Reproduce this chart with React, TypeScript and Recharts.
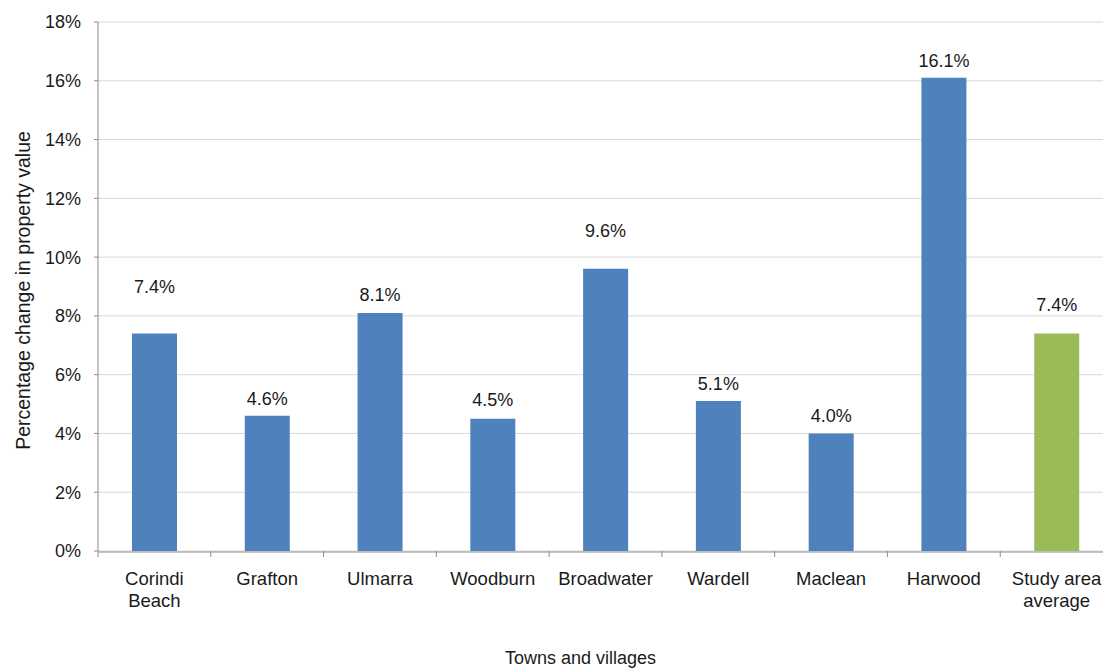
import { Bar, BarChart, CartesianGrid, Cell, LabelList, Label, Text, XAxis, YAxis } from "recharts";

const towns = ["Corindi Beach", "Grafton", "Ulmarra", "Woodburn", "Broadwater", "Wardell", "Maclean", "Harwood", "Study area average"];
const change = [7.4, 4.6, 8.1, 4.5, 9.6, 5.1, 4.0, 16.1, 7.4];
const yTicks = [0, 2, 4, 6, 8, 10, 12, 14, 16, 18];
const edgeTicks = [0, 1, 2, 3, 4, 5, 6, 7, 8, 9];

// data labels in the source sit at uneven heights above the bars (px)
const labelLift = [47, 17, 18, 19, 38, 17, 17, 17, 29];

const data = towns.map((town, i) => ({ town, change: change[i], slot: i }));

const FONT = '"Liberation Sans", Arial, sans-serif';
const BLUE = "#4f81bd";
const GREEN = "#9bbb59";
const AXIS = "#8c8c8c";
const INK = "#1a1a1a";

const TownTick = (props: any) => {
  const { x, y, payload } = props;
  return (
    <Text
      x={x}
      y={y + 20}
      width={96}
      textAnchor="middle"
      verticalAnchor="start"
      lineHeight={22}
      fontSize={18.5}
      fontFamily={FONT}
      fill={INK}
      style={{ fontSize: 18.5, fontFamily: FONT }}
    >
      {payload.value}
    </Text>
  );
};

const ValueLabel = (props: any) => {
  const { x, y, width, value, index } = props;
  return (
    <text
      x={x + width / 2}
      y={y - labelLift[index]}
      textAnchor="middle"
      dominantBaseline="central"
      fontSize={18}
      fontFamily={FONT}
      fill={INK}
    >
      {`${Number(value).toFixed(1)}%`}
    </text>
  );
};

export default function App() {
  return (
    <div style={{ position: "fixed", left: 0, top: 0, width: 1103, height: 668, overflow: "hidden", background: "#fff" }}>
      <BarChart width={1113} height={668} data={data} margin={{ top: 22, right: 0, left: 0, bottom: 56 }}>
        <CartesianGrid stroke="#d9d9d9" vertical={false} />
        {/* boundary tick marks between categories, like the source */}
        <XAxis
          xAxisId="aEdges"
          type="number"
          dataKey="slot"
          domain={[0, 9]}
          allowDataOverflow
          ticks={edgeTicks}
          interval={0}
          tickFormatter={() => ""}
          tickLine={{ stroke: AXIS }}
          tickSize={6}
          axisLine={false}
          height={1}
        />
        <XAxis
          xAxisId="cat"
          dataKey="town"
          interval={0}
          tick={<TownTick />}
          tickLine={false}
          tickSize={0}
          tickMargin={0}
          axisLine={{ stroke: AXIS }}
          height={60}
        >
          <Label
            content={({ viewBox }: any) => (
              <text x={viewBox.x + viewBox.width / 2 - 25} y={664} textAnchor="middle" fontSize={18} fontFamily={FONT} fill={INK}>
                Towns and villages
              </text>
            )}
          />
        </XAxis>
        <YAxis
          width={98}
          domain={[0, 18]}
          ticks={yTicks}
          tickFormatter={(v) => `${v}%`}
          tick={{ fill: INK, fontSize: 18, fontFamily: FONT }}
          tickLine={{ stroke: AXIS }}
          tickSize={4}
          tickMargin={13}
          axisLine={{ stroke: AXIS }}
        >
          <Label
            content={({ viewBox }: any) => {
              const cy = viewBox.y + viewBox.height / 2 + 4;
              return (
                <text x={30} y={cy} transform={`rotate(-90, 30, ${cy})`} textAnchor="middle" fontSize={19.5} fontFamily={FONT} fill={INK}>
                  Percentage change in property value
                </text>
              );
            }}
          />
        </YAxis>
        <Bar dataKey="change" xAxisId="cat" barSize={45} isAnimationActive={false}>
          {data.map((d, i) => (
            <Cell key={d.town} fill={i === data.length - 1 ? GREEN : BLUE} />
          ))}
          <LabelList dataKey="change" content={<ValueLabel />} />
        </Bar>
      </BarChart>
    </div>
  );
}
